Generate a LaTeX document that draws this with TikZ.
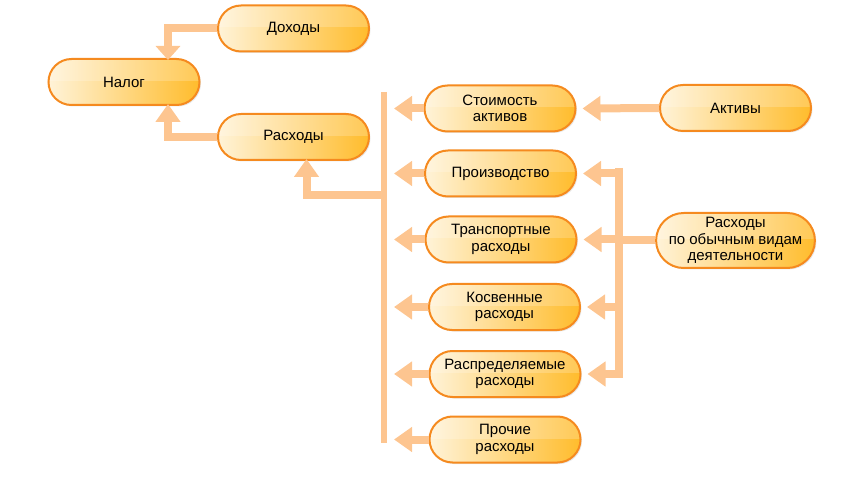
\documentclass[tikz,border=0pt]{standalone}
\usepackage{fontspec}
\setmainfont{Liberation Sans}
\usetikzlibrary{shapes.misc,arrows.meta,shadows,calc}
\definecolor{brd}{HTML}{F58A1F}
\definecolor{fl}{HTML}{FFBC2C}
\definecolor{fllt}{HTML}{FFF3D8}
\definecolor{arr}{HTML}{FDC590}
\tikzset{
 box/.style={rounded rectangle, draw=brd, line width=2pt, left color=fllt, right color=fl,
   minimum width=151pt, minimum height=46pt, inner sep=0pt, align=center,
   font=\fontsize{15}{16.5}\selectfont,
   drop shadow={opacity=0.18,shadow xshift=1.5pt,shadow yshift=-1.5pt},
   path picture={\fill[white,opacity=0.2] (path picture bounding box.north west) rectangle ([yshift=1pt]path picture bounding box.east);}},
 conn/.style={draw=arr, line width=8pt, -{Triangle[width=24pt,length=18pt]}},
 plainline/.style={draw=arr, line width=8pt},
 barline/.style={draw=arr, line width=6pt},
}
\begin{document}
\begin{tikzpicture}[x=1pt,y=-1pt]
\useasboundingbox (0,0) rectangle (854,478);
% nodes
\node[box] (doh) at (293.5,28.5) {Доходы};
\node[box] (nal) at (124,82) {Налог};
\node[box] (rash) at (293.5,137) {Расходы};
\node[box] (stoim) at (500,108.5) {Стоимость\\активов};
\node[box] (aktiv) at (735.5,108) {Активы};
\node[box] (proizv) at (500.5,173.5) {Производство};
\node[box] (trans) at (501,239.5) {Транспортные\\расходы};
\node[box, minimum height=55pt] (obych) at (735.5,240.5) {Расходы\\по обычным видам\\деятельности};
\node[box] (kosv) at (504.5,307) {Косвенные\\расходы};
\node[box] (raspr) at (505,374) {Распределяемые\\расходы};
\node[box] (proch) at (505,439.5) {Прочие\\расходы};
% coordinates
\coordinate (bartop) at (384,92);
\coordinate (barbot) at (384,443);
\coordinate (barmid) at (384,195);
\coordinate (rvtop) at (619,168);
\coordinate (rvbot) at (619,378);
% Налог
\draw[plainline, -{Triangle[width=24pt,length=14pt]}] (doh.west) -| ([xshift=44pt,yshift=-2pt]nal.north);
\draw[conn] (rash.west) -| ([xshift=44pt,yshift=2pt]nal.south);
% bar
\draw[barline] (bartop) -- (barbot);
\draw[conn] (barmid) -| ([xshift=13pt,yshift=2pt]rash.south);
\foreach \n in {stoim,proizv,trans,kosv,raspr,proch}{
  \draw[conn] (\n.west) -- (394,0 |- \n.west);
}
% Активы
\draw[conn] (aktiv.west) -- ([xshift=6pt]stoim.east);
% right branch
\draw[plainline] (rvtop) -- (rvbot);
\draw[plainline] (obych.west) -- (rvtop |- obych.west);
\foreach \n in {proizv,trans,kosv,raspr}{
  \draw[conn] (rvtop |- \n.east) -- ([xshift=6pt]\n.east);
}
\end{tikzpicture}
\end{document}
